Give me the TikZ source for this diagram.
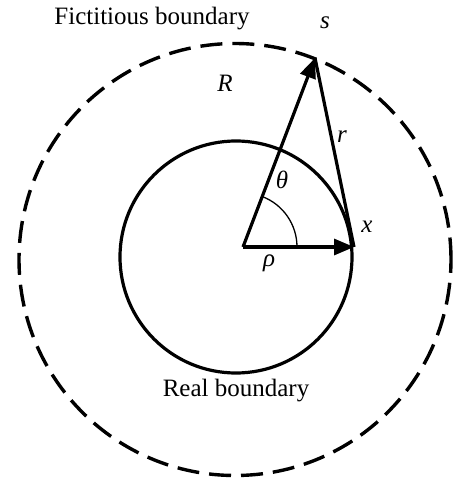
\documentclass[tikz,border=0pt]{standalone}
\usepackage{fontspec}
\setmainfont{Liberation Serif}
\usetikzlibrary{arrows.meta}
\begin{document}
\begin{tikzpicture}[x=1pt,y=1pt,
  lbl/.style={inner sep=0pt,font=\fontsize{25}{29}\selectfont},
  sym/.style={inner sep=0pt,font=\fontsize{25}{29}\selectfont\itshape},
  thickln/.style={line width=3.2pt},
  vec/.style={line width=3.2pt,-{Triangle[length=20pt,width=16pt]}},
  fict/.style={line width=3.4pt,dash pattern=on 22pt off 10pt},
  anglearc/.style={line width=1.3pt}]
\useasboundingbox (0,0) rectangle (453,480);
% circles
\draw[fict] (235,220.5) circle[radius=216pt];
\draw[thickln] (236,223) circle[radius=116pt];
% points
\coordinate (O) at (243,233);
\coordinate (X) at (354,233);
\coordinate (S) at (315,422);
% vectors
\draw[thickln] (S) -- (X);
\draw[vec] (O) -- (S);
\draw[vec] (O) -- (X);
% angle
\draw[anglearc] ([xshift=54pt]O) arc[start angle=0,end angle=69,radius=54pt];
% labels
\node[lbl,anchor=base] (fb) at (152,455) {Fictitious boundary};
\node[lbl,anchor=base] (rb) at (236,83) {Real boundary};
\node[sym] (ls) at (325,457) {s};
\node[sym] (lR) at (225,397) {R};
\node[sym] (lr) at (342,343) {r};
\node[sym] (lt) at (282,300) {θ};
\node[sym] (lx) at (367,253) {x};
\node[sym] (lp) at (269,217) {ρ};
\end{tikzpicture}
\end{document}
